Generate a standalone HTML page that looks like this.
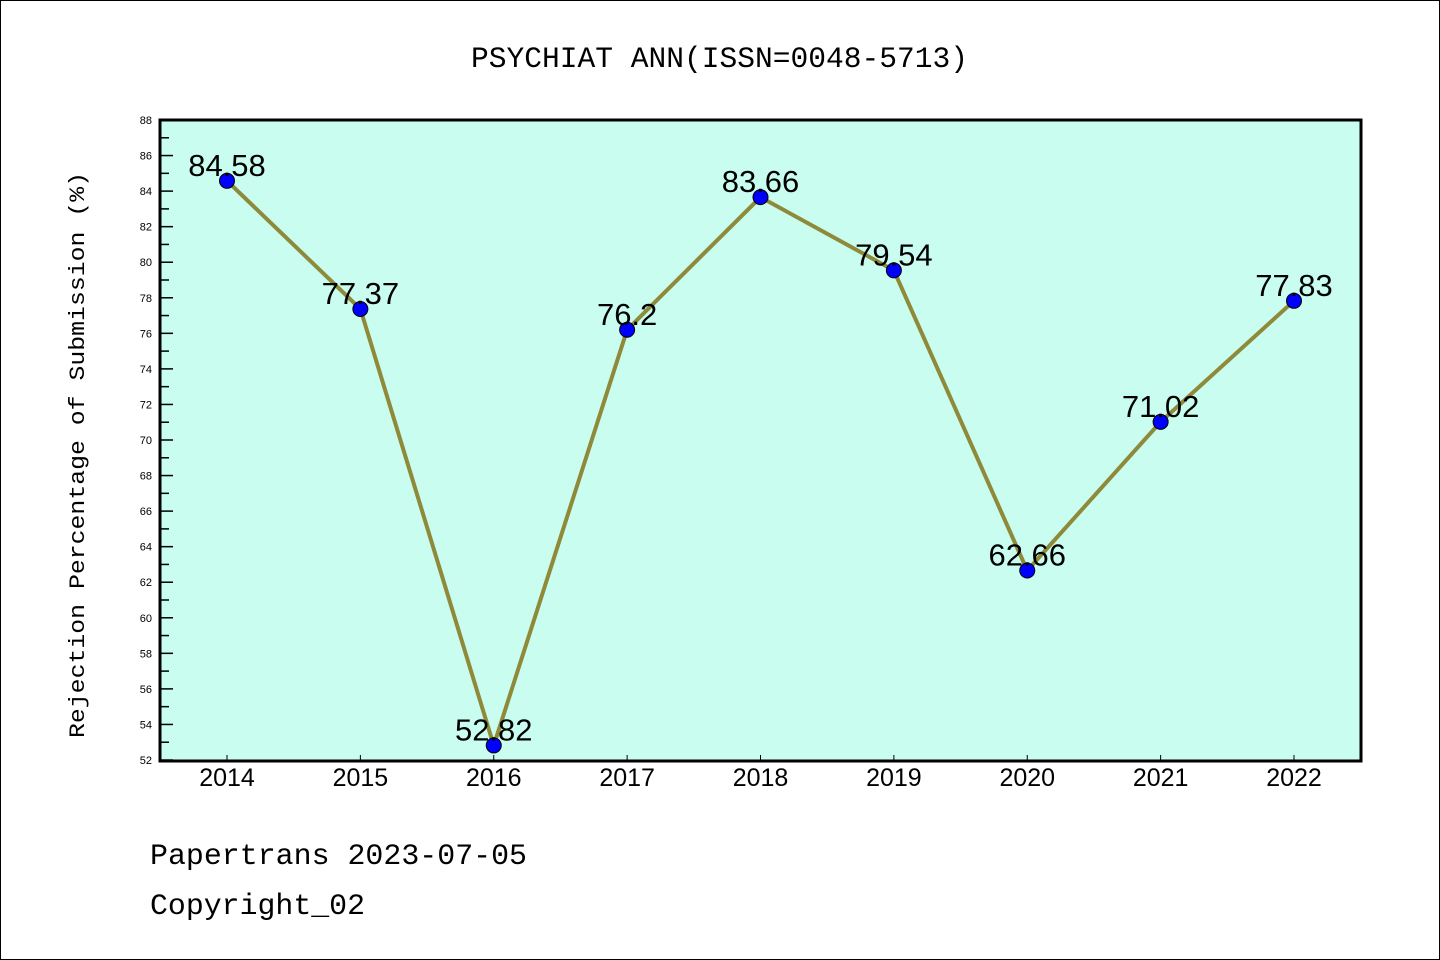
<!DOCTYPE html>
<html><head><meta charset="utf-8"><style>
body{margin:0;background:#fff;}
svg{display:block;font-family:"Liberation Sans","WenQuanYi Zen Hei",sans-serif;}
</style></head><body>
<svg width="1440" height="960">
<rect x="0.5" y="0.5" width="1439" height="959" fill="#fff" stroke="#000"/>
<text x="471" y="67" font-size="30" textLength="497" lengthAdjust="spacingAndGlyphs" font-family="'Liberation Mono',monospace">PSYCHIAT ANN(ISSN=0048-5713)</text>
<rect x="160" y="120" width="1201" height="641" fill="#c8fdef"/>
<g id="yticks"></g>
<g id="xticks"></g>
<g id="series"></g>
<rect x="160" y="120" width="1201" height="641" fill="none" stroke="#000" stroke-width="3"/>
<text transform="translate(84,455) rotate(-90)" text-anchor="middle" font-size="22" textLength="566" lengthAdjust="spacingAndGlyphs" font-family="'Liberation Mono',monospace">Rejection Percentage of Submission (%)</text>
<text x="150" y="864" font-size="30" textLength="377" lengthAdjust="spacingAndGlyphs" font-family="'Liberation Mono',monospace">Papertrans 2023-07-05</text>
<text x="150" y="914" font-size="30" textLength="215" lengthAdjust="spacingAndGlyphs" font-family="'Liberation Mono',monospace">Copyright_02</text>
</svg>
<script>
const categories=["2014","2015","2016","2017","2018","2019","2020","2021","2022"];
const values=[84.58,77.37,52.82,76.2,83.66,79.54,62.66,71.02,77.83];
const valueLabels=["84.58","77.37","52.82","76.2","83.66","79.54","62.66","71.02","77.83"];
const yMin=52,yMax=88;
const NS="http://www.w3.org/2000/svg";
const X=i=>227+i*(1294-227)/(categories.length-1);
const Y=v=>760-(v-yMin)*(640/(yMax-yMin));
function mk(t,a,p){const e=document.createElementNS(NS,t);for(const k in a)e.setAttribute(k,a[k]);p.appendChild(e);return e;}
const yt=document.getElementById('yticks');
for(let v=yMin;v<=yMax;v++){
  const major=(v%2===0);
  const l=mk('line',{x1:160,x2:major?173:169,y1:Y(v),y2:Y(v),stroke:'#000','stroke-width':1.5},yt);
  
  
  if(major){const t=mk('text',{x:152,y:Y(v)+4,'text-anchor':'end','font-size':11},yt);t.textContent=v;
  
  }
}
const xt=document.getElementById('xticks');
categories.forEach((c,i)=>{
  const l=mk('line',{x1:X(i),x2:X(i),y1:761,y2:755,stroke:'#000','stroke-width':1},xt);
  
  
  const t=mk('text',{x:X(i),y:786,'text-anchor':'middle','font-size':25},xt);t.textContent=c;
  
  
});
const s=document.getElementById('series');
const pl=mk('polyline',{points:values.map((v,i)=>X(i)+','+Y(v)).join(' '),fill:'none',stroke:'#8f8a3a','stroke-width':4},s);


values.forEach((v,i)=>{
  const c=mk('circle',{cx:X(i),cy:Y(v),r:7.5,fill:'#0000ff',stroke:'#000','stroke-width':1},s);
  
  
  const t=mk('text',{x:X(i),y:Y(v)-5,'text-anchor':'middle','font-size':31},s);t.textContent=valueLabels[i];
  
  
});
</script>
</body></html>
